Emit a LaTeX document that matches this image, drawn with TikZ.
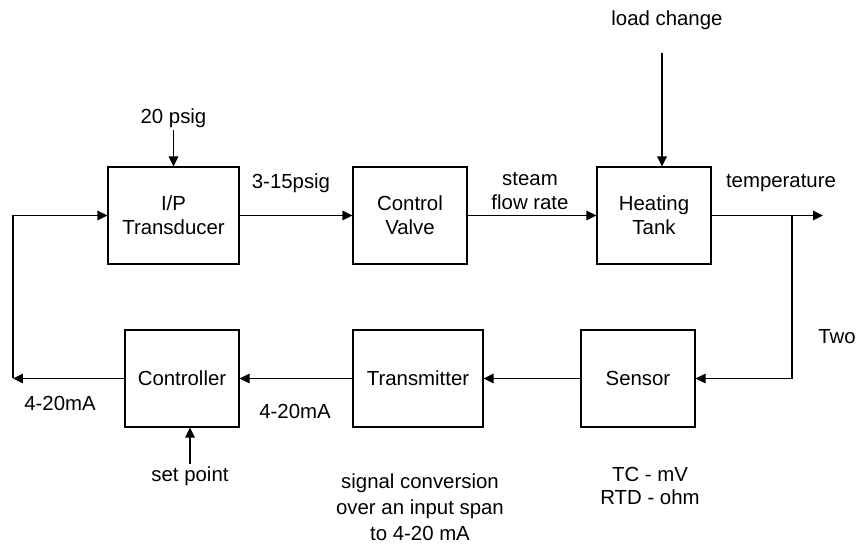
\documentclass[tikz,border=0pt]{standalone}
\usepackage{fontspec}
\setmainfont{Liberation Sans}
\usetikzlibrary{arrows.meta, positioning}

\begin{document}
\begin{tikzpicture}[
    >={Triangle[length=2mm, width=1.9mm]}, line width=0.6pt,
    font=\fontsize{11.6}{13.6}\selectfont,
    block/.style={rectangle, draw, minimum width=2.28cm, minimum height=1.94cm, align=center, inner sep=2pt},
    tag/.style={align=center, inner sep=1pt}
]
\useasboundingbox (0,0) rectangle (17.22,-10.92);

% Top row
\node[block, minimum width=2.62cm] (ip) at (3.47,-4.31) {I/P\\Transducer};
\node[block] (valve) at (8.2,-4.31) {Control\\Valve};
\node[block] (tank) at (13.08,-4.31) {Heating\\Tank};

% Bottom row
\node[block] (ctrl) at (3.64,-7.57) {Controller};
\node[block, minimum width=2.6cm] (trans) at (8.36,-7.57) {Transmitter};
\node[block] (sensor) at (12.76,-7.57) {Sensor};

% Labels
\node[tag] (psig20) at (3.47,-2.36) {20 psig};
\node[tag] (psig315) at (5.82,-3.66) {3-15psig};
\node[tag] (steam) at (10.6,-3.82) {steam\\flow rate};
\node[tag] (load) at (13.34,-0.4) {load change};
\node[tag] (temp) at (15.62,-3.66) {temperature};
\node[tag] (two) at (16.74,-6.74) {Two};
\node[tag] (maout) at (1.2,-8.06) {4-20mA};
\node[tag] (main) at (5.9,-8.22) {4-20mA};
\node[tag] (setpt) at (3.8,-9.52) {set point};
\node[tag, font=\fontsize{11.6}{14.8}\selectfont] (span) at (8.4,-10.14) {signal conversion\\over an input span\\to 4-20 mA};
\node[tag, font=\fontsize{11.6}{12.8}\selectfont] (rtd) at (13.0,-9.72) {TC - mV\\RTD - ohm};

% Corners
\coordinate (lcorner) at (0.26,-7.57);
\coordinate (loadin) at (13.24,-1.06);
\coordinate (branch) at (15.84,-4.31);
\coordinate (out) at (16.46,-4.31);

% Connections
\draw[->] (psig20) -- (ip);
\draw[->] (ip) -- (valve);
\draw[->] (valve) -- (tank);
\draw[->] (loadin) -- (loadin |- tank.north);
\draw[->] (tank) -- (out);
\draw[->] (branch) |- (sensor);
\draw[->] (sensor) -- (trans);
\draw[->] (trans) -- (ctrl);
\draw[->] (ctrl) -- (lcorner);
\draw[->] (lcorner) |- (ip);
\draw[->] (setpt) -- (setpt |- ctrl.south);
\end{tikzpicture}
\end{document}
